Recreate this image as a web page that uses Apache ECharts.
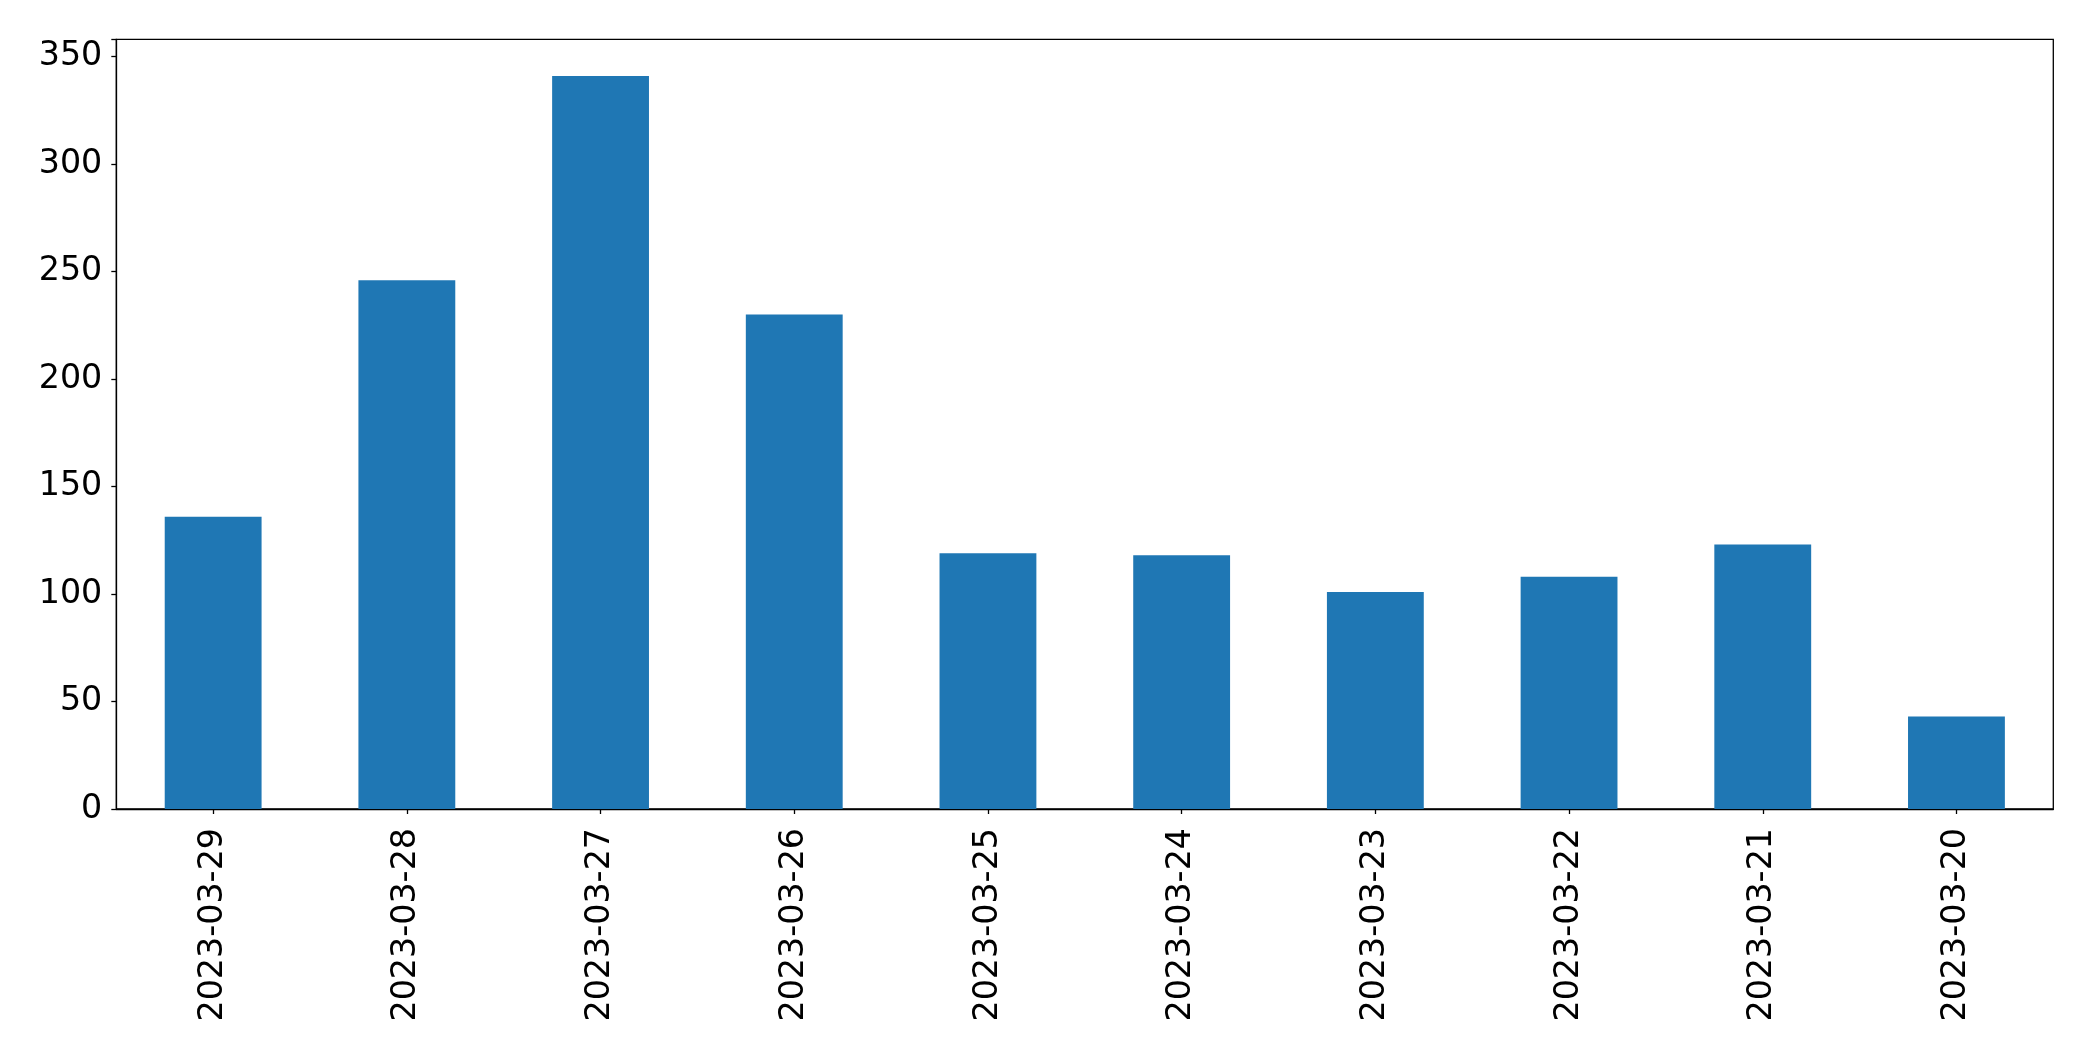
<!DOCTYPE html>
<html>
<head>
<meta charset="utf-8">
<script src="https://cdn.jsdelivr.net/npm/echarts@6/dist/echarts.min.js"></script>
<style>
html,body{margin:0;padding:0;background:#fff;}
#chart{width:2093px;height:1061px;}
</style>
</head>
<body>
<div id="chart"></div>
<script>
const categories = ['2023-03-29','2023-03-28','2023-03-27','2023-03-26','2023-03-25','2023-03-24','2023-03-23','2023-03-22','2023-03-21','2023-03-20'];
const values = [136, 246, 341, 230, 119, 118, 101, 108, 123, 43];
const yTicks = [0, 50, 100, 150, 200, 250, 300, 350];

const chart = echarts.init(document.getElementById('chart'), null, {renderer: 'canvas'});
const font = 'DejaVu Sans';
chart.setOption({
  animation: false,
  backgroundColor: '#ffffff',
  grid: {
    left: 116.3, right: 2093 - 2053.3, top: 39.3, bottom: 1061 - 809,
    show: true, borderColor: '#000', borderWidth: 1.3, backgroundColor: 'transparent'
  },
  xAxis: {
    type: 'category',
    data: categories,
    axisLine: {show: true, lineStyle: {color: '#000', width: 1.3}},
    axisTick: {show: true, alignWithLabel: true, length: 5, lineStyle: {color: '#000', width: 1.3}},
    axisLabel: {rotate: 90, margin: 19, color: '#000', fontFamily: font, fontSize: 33.3, interval: 0},
    splitLine: {show: false}
  },
  yAxis: {
    type: 'value',
    min: 0,
    max: 341 * 1.05,
    interval: 50,
    axisLine: {show: true, lineStyle: {color: '#000', width: 1.3}},
    axisTick: {show: true, length: 5, lineStyle: {color: '#000', width: 1.3}},
    axisLabel: {
      margin: 14, color: '#000', fontFamily: font, fontSize: 33.3,
      formatter: function (v) { return yTicks.indexOf(v) >= 0 ? String(v) : ''; }
    },
    splitLine: {show: false}
  },
  series: [{
    type: 'bar',
    data: values,
    barWidth: '50%',
    itemStyle: {color: '#1f77b4'}
  }]
});
</script>
</body>
</html>
